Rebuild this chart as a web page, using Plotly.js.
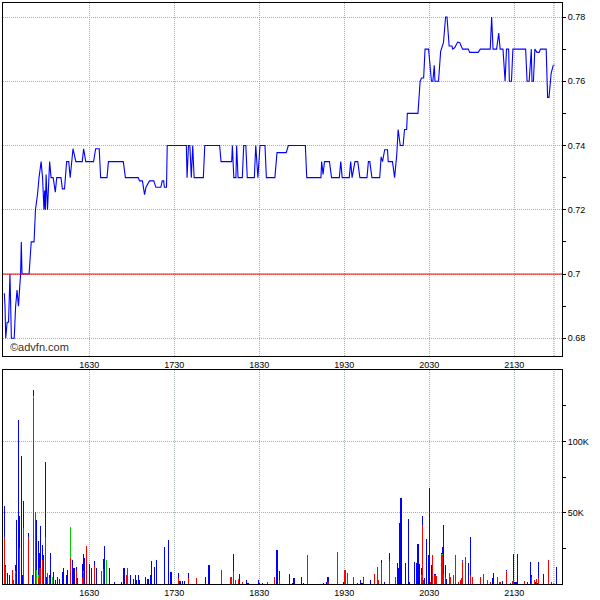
<!DOCTYPE html>
<html>
<head>
<meta charset="utf-8">
<script src="https://cdn.plot.ly/plotly-3.0.1.min.js"></script>
<style>html,body{margin:0;padding:0;background:#fff;}#chart{width:600px;height:600px;}</style>
</head>
<body>
<div id="chart"></div>
<script>
// ---- price series (time of trade, price) ----
const priceTimes = ["15:30","15:30:30","15:31","15:32","15:33","15:34","15:35","15:37","15:38","15:39","15:40","15:41:30","15:42","15:42:30","15:47:30","15:49","15:51","15:52","15:53:30","15:54","15:54:30","15:56","15:57","15:58","15:58:30","15:59","15:59:30","16:00:30","16:01:30","16:02","16:03","16:04:30","16:06","16:07","16:08","16:10","16:11","16:12:30","16:14","16:15:30","16:16:30","16:18","16:18:30","16:20:30","16:25","16:26","16:27:30","16:33","16:34:30","16:37","16:38","16:42:30","16:43:30","16:54","16:55:30","17:04:30","17:05:30","17:07:30","17:09","17:10","17:12:30","17:15:30","17:17","17:20:30","17:21:30","17:22:30","17:23","17:24:30","17:25","17:38:30","17:39","17:40","17:41","17:42","17:43","17:44","17:50:30","17:51:30","18:02","18:03","18:10:30","18:11","18:12","18:13:30","18:14","18:15","18:18","18:19","18:20:30","18:21:30","18:26:30","18:27:30","18:28:30","18:29","18:30:30","18:34","18:35","18:41","18:42:30","18:49","18:50:30","19:02:30","19:03:30","19:13:30","19:14","19:15","19:16","19:19:30","19:21","19:26:30","19:27:30","19:28:30","19:33:30","19:34:30","19:35:30","19:37:30","19:39:30","19:41","19:46","19:47","19:48","19:49:30","19:55","19:56","19:57","19:58:30","20:00:30","20:01","20:04","20:05:30","20:07","20:08","20:09:30","20:11:30","20:12:30","20:14","20:14:30","20:22","20:23:30","20:24:30","20:26","20:27","20:29:30","20:31:30","20:32:30","20:33:30","20:34","20:36:30","20:38","20:40","20:41:30","20:42:30","20:44","20:46","20:46:30","20:48","20:50","20:51:30","20:53:30","20:57:30","20:58:30","21:04:30","21:06","21:13","21:14","21:15","21:17:30","21:19","21:20","21:22","21:23:30","21:24:30","21:26","21:26:30","21:28","21:29","21:38","21:39","21:40:30","21:41:30","21:42","21:42:30","21:43:30","21:44:30","21:46","21:47:30","21:48:30","21:52:30","21:53:30","21:54:30","21:56","21:57:30","21:58:30"];
const prices = [0.694,0.690,0.680,0.685,0.685,0.700,0.680,0.680,0.690,0.695,0.690,0.700,0.710,0.700,0.700,0.710,0.710,0.720,0.725,0.730,0.730,0.735,0.730,0.720,0.726,0.720,0.731,0.720,0.735,0.735,0.730,0.730,0.7255,0.730,0.730,0.730,0.7265,0.7265,0.735,0.735,0.730,0.739,0.739,0.735,0.735,0.739,0.735,0.735,0.739,0.739,0.730,0.730,0.735,0.735,0.730,0.730,0.729,0.729,0.7247,0.727,0.729,0.729,0.727,0.727,0.729,0.729,0.727,0.727,0.740,0.740,0.730,0.740,0.740,0.730,0.740,0.730,0.730,0.740,0.740,0.735,0.735,0.740,0.730,0.730,0.740,0.730,0.730,0.740,0.740,0.730,0.730,0.740,0.730,0.730,0.740,0.740,0.730,0.730,0.7378,0.7378,0.740,0.740,0.730,0.730,0.735,0.731,0.735,0.735,0.730,0.730,0.735,0.730,0.730,0.735,0.730,0.735,0.735,0.730,0.730,0.735,0.735,0.730,0.730,0.7365,0.735,0.7387,0.7387,0.735,0.735,0.730,0.737,0.745,0.740,0.740,0.745,0.745,0.750,0.750,0.760,0.761,0.761,0.770,0.770,0.760,0.760,0.765,0.760,0.760,0.7693,0.772,0.780,0.780,0.771,0.771,0.770,0.7705,0.7722,0.772,0.770,0.770,0.769,0.769,0.770,0.770,0.780,0.770,0.770,0.775,0.770,0.770,0.760,0.770,0.770,0.760,0.760,0.770,0.770,0.760,0.760,0.770,0.770,0.760,0.760,0.770,0.769,0.769,0.770,0.770,0.755,0.755,0.7625,0.765,0.765];
const prevClose = 0.70;
const lastTime = "21:58";

// ---- volume (thousands of shares), stacked red / green / blue ----
const volTimes = ["15:30","15:31","15:32:30","15:33:30","15:35:30","15:36:30","15:38","15:38:30","15:40","15:40:30","15:42","15:43","15:43:30","15:47","15:50","15:50:30","15:52","15:52:30","15:54","15:54:30","15:55:30","15:57","15:57:30","15:59","15:59:30","16:00:30","16:02","16:02:30","16:04","16:04:30","16:06","16:07:30","16:09","16:11","16:11:30","16:14","16:14:30","16:16:30","16:18","16:18:30","16:19:30","16:21","16:21:30","16:25","16:26","16:26:30","16:28","16:30","16:31:30","16:33:30","16:35","16:38:30","16:40","16:40:30","16:42","16:44","16:47:30","16:52:30","16:54","16:54:30","16:56","16:57","16:59","17:01","17:02:30","17:03","17:04:30","17:05:30","17:09:30","17:11","17:11:30","17:13","17:14","17:16","17:17:30","17:23","17:26","17:27","17:28","17:33","17:34","17:35:30","17:37","17:40","17:45:30","17:52","17:54:30","18:03","18:10","18:11:30","18:13","18:15","18:16","18:18","18:21","18:22","18:29:30","18:30","18:32","18:35:30","18:41","18:42:30","18:44","18:51","18:53:30","18:54:30","18:59:30","19:01","19:04","19:15","19:17:30","19:18:30","19:25","19:29:30","19:30:30","19:32","19:36:30","19:39","19:41:30","19:42:30","19:43:30","19:48:30","19:51","19:53:30","19:54","19:56","19:58:30","20:02","20:06","20:07:30","20:08","20:09","20:10","20:13","20:15","20:16","20:19:30","20:21","20:22","20:23","20:24:30","20:25","20:26","20:26:30","20:28","20:29:30","20:30","20:30:30","20:31:30","20:32","20:34","20:35","20:38:30","20:39","20:40","20:41:30","20:42","20:44","20:45","20:47","20:48:30","20:50:30","20:52","20:52:30","20:53:30","20:55:30","20:57:30","20:59","21:00:30","21:06","21:08","21:11","21:13","21:14:30","21:15","21:18","21:19:30","21:20","21:21:30","21:24:30","21:27","21:28:30","21:29:30","21:30:30","21:31:30","21:32","21:37","21:39","21:41:30","21:42","21:44","21:45","21:45:30","21:46:30","21:47","21:50:30","21:54","21:56","21:57:30","21:59:30"];
const volRed = [33,12,0,0,10,3,8,0,0,25,0,0,39,33,0,130.6,50.5,0,4,11,11,17,0,33,0,8,4,0,0,0,0,0,0,0,0,0,0,18,4,0,0,10,0,4,8,0,26.6,0,0,13,0,9,10.7,0,0,0,0,0,0,0,6,11,0,0,0,0,0,0,0,0,0,0,0,0,0,0,0,0,0,4,0,0,0,4,4.4,0,0,10,5,9,3,2.5,0,1.5,0,0,0,0,0,1.5,5,0,3,0,0,0,0,0,20,0,0,1.5,22.6,0,10,8,5,0,0,0,4.5,0,7,11.7,2.5,15,0,16,5,0,0,0,0,0,0,0,0,0,0,0,4.7,41.6,3,0,0,0,0,1.5,0,20,6,5.6,20,20,7,5,0,8,5,6,20,1.5,3,4,15.7,19,0,6,5,5,7,3,1.5,0,0,5,1.5,1.5,0,8.5,1,2,3,0,0,0,2.3,0,0,5,3,0,3.3,0,4,0,17,1.5,1,0];
const volGreen = [0,0,0,0,0,0,1,0,0,0,0,0,0,0,0,1.4,0,9.6,2,0,0,0,0,0,0,0,0,0,5,0,0,0,0,0,0,0,0,22,2,0,0,0,0,0,1,0,0,0,0,0,0,0,0,0,16.6,0,0,0,0,0,0,0,0,0,0,0,0,0,0,0,0,0,0,0,0,0,0,0,0,0,0,0,0,0,0,0,0,0,0,0,0,0.8,0,0,0,0,0,0,0,0,0,0,0,0,0,0,0,0,0,0,0,0,0,0,0,0,0,0,0,0,0,0,0,0,0,0,0,0,0,0,0,0,0,0,0,0,0,0,0,0,1.5,0,0,0,0,0,0,0,0,0,0,0,1,1,0,0,0,0,0,0,0,0,0,0,0.6,0,0,0,0,0,0,0,0,0,0,0,0,0,0,0.5,0,0,0,0,0,0,0,0,0,0,0,0,0,0,0,0,0,0,0];
const volBlue = [21.7,1,8,6,0,0,4,44.6,114.7,23,89.5,6,19,3,6,4,0,35.4,24,11,29.6,10,20,52.5,5,0,2,21.7,0,8.4,2.6,5,3.7,8.4,11,6.5,9.6,0,10.6,11,11,2,4,10,12,18,0,14,11,3,11,0,7,26.6,0,11,1.5,1.5,2,11,0,0,6,3.7,6,2.6,6.5,2.6,5,3.7,3.7,6,16,12,16.6,25.7,30.6,8.4,8.4,4,2,2,2,3.7,0,5,13.3,0,0,12,0,0,7,0,3,1,3,1,1,0,0,24,6,7,1,4,5,1,0,1,1.5,3.5,0,1.5,0,0,0,1,3,1,0.5,2.5,0,0,0,2,1.5,6,0,14.5,11,43,60,15,45.6,1.5,15.7,15,28,14,4.8,6.4,0,4,31.5,20,67,0,13,0,1,0,0.5,5,34.5,8,3.5,0,0,0,0,0,0,0,0.7,0,14.5,27,0,0,0,0,0,4,8,0,0,0,2.3,0.5,0,0,18,1.5,1.5,20.8,0,1.5,15.7,1.3,0,1.5,0,1,11.7,6.8,0,0,0,11.7];

// ---- axis labels ----
const hourTicks = ["16:30","17:30","18:30","19:30","20:30","21:30"];
const hourLabels = ["1630","1730","1830","1930","2030","2130"];
const priceTicks = [0.68,0.70,0.72,0.74,0.76,0.78];
const priceLabels = ["0.68","0.7","0.72","0.74","0.76","0.78"];
const volTicks = [50,100];
const volLabels = ["50K","100K"];

function toMin(s){const p=s.split(':').map(Number);return p[0]*60+p[1]+(p[2]||0)/60;}

const xMin = toMin("15:29:05"), xMax = toMin("22:03:40");
const FONT = "Liberation Sans, Arial, sans-serif";
const gridCol = "#a4b0b0";
const gridDash = "1px,1px";

const traces = [
  {type:'scatter', mode:'lines', x:priceTimes.map(toMin), y:prices, xaxis:'x', yaxis:'y',
   line:{color:'#0000ff', width:1.1}, hoverinfo:'skip'},
  {type:'bar', x:volTimes.map(toMin), y:volRed, xaxis:'x2', yaxis:'y2', width:0.75,
   marker:{color:'#ff0000', line:{width:0}}},
  {type:'bar', x:volTimes.map(toMin), y:volGreen, xaxis:'x2', yaxis:'y2', width:0.75,
   marker:{color:'#00cc00', line:{width:0}}},
  {type:'bar', x:volTimes.map(toMin), y:volBlue, xaxis:'x2', yaxis:'y2', width:0.75,
   marker:{color:'#0000ff', line:{width:0}}}
];

const xCommon = {
  range:[xMin,xMax], tickmode:'array', tickvals:hourTicks.map(toMin), ticktext:hourLabels,
  showgrid:true, gridcolor:gridCol, griddash:gridDash, gridwidth:1, zeroline:false,
  showline:true, mirror:true, linecolor:'#000', linewidth:1, ticks:'',
  tickfont:{family:FONT, size:9, color:'#000'}, fixedrange:true
};
const yCommon = {
  side:'right', showgrid:true, gridcolor:gridCol, griddash:gridDash, gridwidth:1, zeroline:false,
  showline:true, mirror:true, linecolor:'#000', linewidth:1,
  ticks:'outside', ticklen:3, tickcolor:'#000',
  tickfont:{family:FONT, size:9, color:'#000'}, fixedrange:true
};

const minorPrice = []; for (let v=0.67; v<=0.785; v+=0.01) minorPrice.push(+v.toFixed(2));
const layout = {
  width:600, height:600, margin:{l:3, r:38, t:3, b:16},
  paper_bgcolor:'#fff', plot_bgcolor:'#fff', showlegend:false, barmode:'stack', bargap:0,
  xaxis:Object.assign({}, xCommon, {anchor:'y', domain:[0,1]}),
  xaxis2:Object.assign({}, xCommon, {anchor:'y2', domain:[0,1], matches:'x'}),
  yaxis:Object.assign({}, yCommon, {domain:[0.3924,1], range:[0.67449,0.78436],
    tickmode:'array', tickvals:priceTicks, ticktext:priceLabels,
    minor:{tickmode:'array', tickvals:minorPrice, ticks:'outside', ticklen:3, tickcolor:'#000', showgrid:false}}),
  yaxis2:Object.assign({}, yCommon, {domain:[0,0.3683], range:[0,150],
    tickmode:'array', tickvals:volTicks, ticktext:volLabels,
    minor:{tickmode:'array', tickvals:[25,75,125], ticks:'outside', ticklen:3, tickcolor:'#000', showgrid:false}}),
  shapes:[
    {type:'line', xref:'x domain', x0:0, x1:1, yref:'y', y0:prevClose, y1:prevClose,
     line:{color:'#ff0000', width:1}},
    {type:'line', xref:'x', x0:toMin(lastTime), x1:toMin(lastTime), yref:'y domain', y0:0, y1:1,
     line:{color:'#8c9898', width:1, dash:'1px,1px'}},
    {type:'line', xref:'x2', x0:toMin(lastTime), x1:toMin(lastTime), yref:'y2 domain', y0:0, y1:1,
     line:{color:'#8c9898', width:1, dash:'1px,1px'}}
  ],
  annotations:[
    {text:'©advfn.com', xref:'x domain', yref:'y domain', x:0.009, y:0, xanchor:'left', yanchor:'bottom',
     yshift:1, showarrow:false, font:{family:FONT, size:11, color:'#333'}}
  ]
};

Plotly.newPlot('chart', traces, layout, {displayModeBar:false, staticPlot:true});
</script>
</body>
</html>
